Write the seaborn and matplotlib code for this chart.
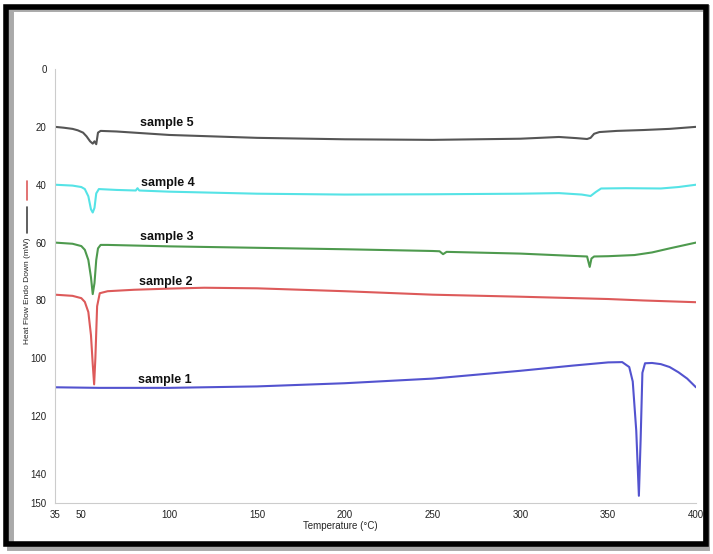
import matplotlib
matplotlib.use("Agg")
import matplotlib.pyplot as plt
import matplotlib.patches as mpatches
import seaborn as sns
import pandas as pd

# temperature (°C) / heat flow (mW)
s1_x = [35, 60, 100, 150, 200, 250, 300, 330, 350, 358, 362, 364, 366, 367.5, 368.5, 369.5, 371, 375, 380, 385, 390, 395, 400]
s1_y = [110.0, 110.2, 110.2, 109.7, 108.6, 107.0, 104.3, 102.5, 101.4, 101.3, 103.0, 108.0, 125.0, 147.5, 128.0, 105.0, 101.7, 101.6, 102.0, 103.0, 104.8, 107.0, 110.0]

s2_x = [35, 45, 50, 52, 54, 55.5, 56.5, 57.3, 58, 59, 60.5, 65, 80, 100, 120, 150, 200, 250, 300, 350, 370, 400]
s2_y = [78.0, 78.4, 79.2, 80.5, 84.0, 92.0, 102.0, 109.0, 100.0, 82.0, 77.5, 76.8, 76.3, 75.9, 75.6, 75.8, 76.8, 78.0, 78.7, 79.5, 80.0, 80.6]

s3_x = [35, 45, 50, 52, 54, 55.5, 56.5, 57.5, 58.5, 59.5, 61, 65, 100, 150, 200, 250, 254, 256, 258, 300, 330, 338, 339.5, 340.5, 342, 350, 365, 375, 385, 400]
s3_y = [60.0, 60.4, 61.2, 62.5, 66.0, 72.0, 77.8, 74.0, 66.0, 62.0, 60.8, 60.8, 61.3, 61.8, 62.3, 62.9, 63.0, 64.0, 63.2, 63.8, 64.6, 64.8, 68.4, 65.5, 64.8, 64.7, 64.3, 63.4, 62.0, 60.0]

s4_x = [35, 45, 50, 52, 54, 55.5, 56.5, 57.5, 58.5, 60, 70, 81, 82, 83, 100, 150, 200, 250, 300, 322, 335, 340, 343, 346, 360, 380, 390, 400]
s4_y = [40.0, 40.3, 40.8, 41.5, 44.0, 48.5, 49.6, 48.0, 43.0, 41.5, 41.8, 42.0, 41.2, 42.0, 42.4, 43.1, 43.4, 43.3, 43.1, 42.9, 43.4, 43.9, 42.5, 41.3, 41.2, 41.3, 40.8, 40.0]

s5_x = [35, 40, 45, 48, 51, 53, 55, 56.5, 57.5, 58.5, 59.5, 61, 70, 100, 150, 200, 250, 300, 322, 332, 338, 340, 342, 345, 355, 370, 385, 400]
s5_y = [20.0, 20.3, 20.7, 21.2, 22.0, 23.3, 25.0, 25.8, 25.0, 26.0, 22.0, 21.4, 21.6, 22.8, 23.8, 24.3, 24.5, 24.1, 23.5, 23.9, 24.2, 23.8, 22.4, 21.8, 21.4, 21.1, 20.7, 20.0]

samples = ["sample 1", "sample 2", "sample 3", "sample 4", "sample 5"]
colors = ["#5353cf", "#dd5a5a", "#4e9a4e", "#55e3e6", "#555555"]
label_x = [82, 83, 83.5, 84, 83.5]
label_y = [107.5, 73.6, 58.1, 39.4, 18.7]

x_ticks = [35, 50, 100, 150, 200, 250, 300, 350, 400]
y_ticks = [0, 20, 40, 60, 80, 100, 120, 140, 150]

frames = []
for name, xs, ys in zip(samples, [s1_x, s2_x, s3_x, s4_x, s5_x], [s1_y, s2_y, s3_y, s4_y, s5_y]):
    frames.append(pd.DataFrame({"temp": xs, "flow": ys, "sample": name}))
df = pd.concat(frames, ignore_index=True)

sns.set_style("white")
plt.rcParams["font.family"] = ["Liberation Sans", "DejaVu Sans"]

fig = plt.figure(figsize=(7.13, 5.54), dpi=100)
ax = fig.add_axes([0.0771, 0.092, 0.899, 0.7835])
ax.patch.set_alpha(0)

sns.lineplot(data=df, x="temp", y="flow", hue="sample", palette=dict(zip(samples, colors)),
             estimator=None, sort=False, legend=False, linewidth=1.5, ax=ax)

for name, lx, ly in zip(samples, label_x, label_y):
    ax.text(lx, ly, name, fontsize=9, fontweight="bold", ha="left", va="center", color="#111111")

ax.set_xlim(35, 400)
ax.set_ylim(150, 0)
ax.set_xticks(x_ticks)
ax.set_yticks(y_ticks)
ax.tick_params(axis="both", labelsize=7, length=3, color="#cccccc", labelcolor="#222222")
ax.tick_params(axis="x", pad=2)
ax.tick_params(axis="y", pad=3)

for side in ["top", "right"]:
    ax.spines[side].set_visible(False)
for side in ["left", "bottom"]:
    ax.spines[side].set_color("#cccccc")
    ax.spines[side].set_linewidth(0.8)

ax.set_xlabel("Temperature (°C)", fontsize=7)
ax.xaxis.set_label_coords(0.445, -0.042)
ax.set_ylabel("Heat Flow Endo Down (mW)", fontsize=6)
ax.yaxis.set_label_coords(-0.038, 0.49)

# little legend strokes next to the y label
ax.plot([-0.044, -0.044], [0.698, 0.742], transform=ax.transAxes, color="#dd5a5a", lw=1.2, clip_on=False)
ax.plot([-0.044, -0.044], [0.622, 0.682], transform=ax.transAxes, color="#444444", lw=1.2, clip_on=False)

# black frame around the picture
fig.patches.append(mpatches.Rectangle((0.014, 0.012), 0.976, 0.974, transform=fig.transFigure,
                                      fill=False, edgecolor="#aaaaaa", linewidth=5, zorder=-2))
fig.patches.append(mpatches.Rectangle((0.008, 0.018), 0.982, 0.97, transform=fig.transFigure,
                                      fill=False, edgecolor="black", linewidth=4, zorder=-1))

fig.savefig("out.png", dpi=100)
